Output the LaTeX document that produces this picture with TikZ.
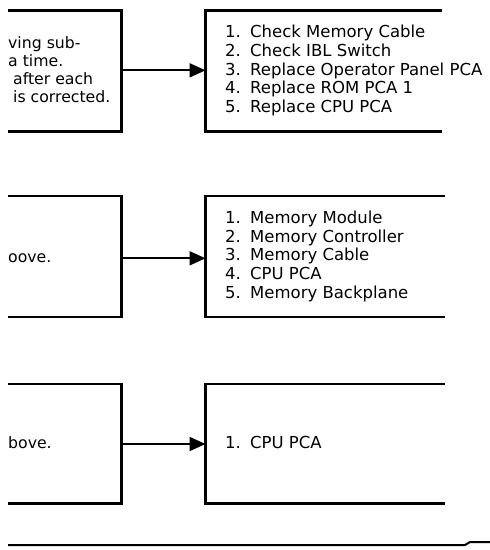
\documentclass[tikz,border=0pt]{standalone}
\usepackage{fontspec}
\setmainfont{DejaVu Sans}
\usetikzlibrary{arrows.meta}

\begin{document}
\begin{tikzpicture}[x=1pt, y=-1pt,
        boxline/.style={line width=2.6pt},
        link/.style={line width=1.8pt, -{Triangle[length=16pt, width=14pt]}},
        label/.style={font=\fontsize{16.5}{18.75}\selectfont, inner sep=0pt, anchor=base west},
        note/.style={font=\fontsize{15.7}{18}\selectfont, inner sep=0pt, anchor=base west}
    ]
        \useasboundingbox (0,0) rectangle (490,550);

        % first step
        \draw[boxline] (8,10.7) -- (121.5,10.7) -- (121.5,131.7) -- (8,131.7);
        \draw[boxline] (442,10.7) -- (205.5,10.7) -- (205.5,131.7) -- (442,131.7);
        \node[note] (subA) at (8,48.3) {ving sub-};
        \node[note] (subB) at (8,66.4) {a time.};
        \node[note] (subC) at (13,84.6) {after each};
        \node[note] (subD) at (13,102.7) {is corrected.};
        \coordinate (outA) at (121.5,70.3);
        \coordinate (inA) at (205.5,70.3);
        \draw[link] (outA) -- (inA);
        \foreach \txt [count=\i] in {Check Memory Cable, Check IBL Switch, Replace Operator Panel PCA, Replace ROM PCA 1, Replace CPU PCA}
            \node[label] (chk\i) at (225,{37.7+18.75*(\i-1)}) {\makebox[25pt][l]{\i.}\txt};

        % second step
        \draw[boxline] (8,196) -- (121.5,196) -- (121.5,317) -- (8,317);
        \draw[boxline] (445,196) -- (205.5,196) -- (205.5,317) -- (445,317);
        \node[note] (aboveB) at (8,262.7) {oove.};
        \coordinate (outB) at (121.5,258.3);
        \coordinate (inB) at (205.5,258.3);
        \draw[link] (outB) -- (inB);
        \foreach \txt [count=\i] in {Memory Module, Memory Controller, Memory Cable, CPU PCA, Memory Backplane}
            \node[label] (mem\i) at (225,{223.3+18.75*(\i-1)}) {\makebox[25pt][l]{\i.}\txt};

        % third step
        \draw[boxline] (8,384) -- (121.5,384) -- (121.5,503.3) -- (8,503.3);
        \draw[boxline] (445,384) -- (205.5,384) -- (205.5,503.3) -- (445,503.3);
        \node[note] (aboveC) at (8,448.3) {bove.};
        \coordinate (outC) at (121.5,444);
        \coordinate (inC) at (205.5,444);
        \draw[link] (outC) -- (inC);
        \node[label] (cpu1) at (225,448.3) {\makebox[25pt][l]{1.}CPU PCA};

        % page rule
        \draw[line width=2pt] (8,545) -- (465,545) -- (470,542) -- (490,542);
    \end{tikzpicture}
\end{document}
